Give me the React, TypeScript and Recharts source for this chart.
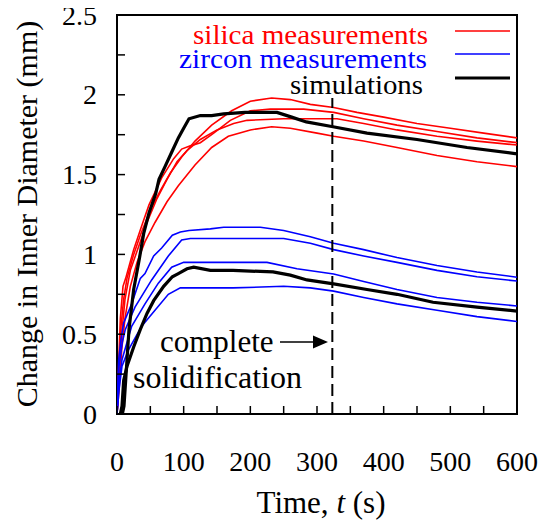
import { LineChart, Line, XAxis, YAxis, ReferenceArea, ReferenceLine } from "recharts";

const FONT = "'Liberation Serif', 'Times New Roman', serif";

// [time (s), change in inner diameter (mm)]
const silicaA = [[0,0],[3,0.3],[6,0.55],[10,0.72],[15,0.85],[25,1.0],[35,1.12],[50,1.28],[65,1.4],[80,1.51],[97,1.61],[117,1.71],[142,1.81],[172,1.9],[200,1.96],[232,1.98],[260,1.97],[290,1.94],[325,1.92],[360,1.89],[400,1.86],[450,1.82],[500,1.79],[550,1.76],[600,1.73]];
const silicaB = [[0,0],[2,0.25],[5,0.6],[9,0.8],[13,0.85],[25,1.03],[38,1.19],[48,1.31],[67,1.48],[85,1.6],[97,1.66],[110,1.68],[125,1.7],[145,1.76],[170,1.84],[200,1.9],[230,1.91],[280,1.91],[325,1.89],[370,1.85],[420,1.81],[480,1.77],[540,1.73],[600,1.7]];
const silicaC = [[0,0],[3,0.2],[7,0.5],[12,0.72],[20,0.9],[30,1.02],[45,1.2],[60,1.35],[75,1.47],[90,1.58],[105,1.65],[125,1.72],[150,1.78],[175,1.82],[195,1.84],[250,1.85],[330,1.85],[370,1.82],[420,1.78],[480,1.74],[540,1.71],[600,1.685]];
const silicaD = [[0,0],[3,0.15],[7,0.4],[12,0.6],[20,0.8],[30,0.95],[42,1.08],[57,1.2],[75,1.33],[92,1.43],[117,1.56],[142,1.67],[167,1.74],[200,1.78],[232,1.8],[260,1.79],[300,1.76],[325,1.74],[370,1.71],[420,1.67],[480,1.62],[540,1.58],[600,1.55]];
const silicaSim = [[8,0],[10.5,0.05],[13,0.21],[18,0.53],[25,0.78],[33,0.96],[40,1.13],[48,1.26],[58,1.38],[63,1.47],[72,1.55],[82,1.64],[92,1.73],[100,1.79],[108,1.85],[125,1.87],[142,1.87],[160,1.88],[192,1.89],[240,1.89],[262,1.86],[284,1.83],[324,1.8],[375,1.76],[450,1.72],[525,1.67],[600,1.63]];

const zirconA = [[0,0],[1,0.15],[2.5,0.34],[6,0.47],[10,0.57],[22,0.69],[35,0.85],[42,0.88],[55,0.99],[67,1.04],[83,1.12],[95,1.14],[108,1.15],[140,1.16],[160,1.17],[215,1.17],[250,1.15],[290,1.11],[325,1.07],[370,1.03],[420,0.98],[480,0.93],[540,0.89],[600,0.857]];
const zirconB = [[0,0],[3,0.3],[8,0.45],[12.5,0.53],[27,0.67],[52,0.84],[77,0.99],[97,1.09],[110,1.1],[200,1.1],[250,1.1],[290,1.07],[325,1.03],[370,0.99],[420,0.95],[480,0.9],[540,0.86],[600,0.833]];
const zirconC = [[0,0],[3,0.2],[7.5,0.34],[22,0.55],[42,0.69],[62,0.82],[82,0.92],[100,0.95],[225,0.95],[270,0.91],[325,0.877],[370,0.83],[420,0.78],[480,0.73],[540,0.7],[600,0.677]];
const zirconD = [[0,0],[3,0.15],[7.5,0.3],[17,0.4],[37,0.55],[57,0.65],[77,0.75],[95,0.79],[174,0.79],[250,0.8],[290,0.79],[325,0.77],[370,0.73],[420,0.69],[480,0.65],[540,0.61],[600,0.58]];
const zirconSim = [[5,0],[7.5,0.05],[10,0.21],[15,0.3],[25,0.42],[35,0.53],[45,0.63],[55,0.71],[70,0.8],[83,0.86],[92,0.88],[105,0.91],[115,0.92],[140,0.9],[174,0.9],[234,0.89],[260,0.87],[285,0.84],[325,0.815],[375,0.78],[420,0.75],[474,0.7],[540,0.67],[600,0.645]];

const xTicks = [0, 50, 100, 150, 200, 250, 300, 350, 400, 450, 500, 550, 600];
const yTicks = [0, 0.25, 0.5, 0.75, 1, 1.25, 1.5, 1.75, 2, 2.25, 2.5];
const solidTime = 323;

const toPts = (arr: number[][]) => arr.map(([t, v]) => ({ t, v }));

const XTick = (props: any) => {
  const { x, y, payload } = props;
  const v = payload.value;
  return (
    <g>
      <line x1={x} y1={y} x2={x} y2={y - 8} stroke="#000" strokeWidth={1.5} />
      {v % 100 === 0 && (
        <text x={x} y={y + 57} textAnchor="middle" fontSize={28} fontFamily={FONT} fill="#000">
          {v}
        </text>
      )}
    </g>
  );
};

const YTick = (props: any) => {
  const { x, y, payload } = props;
  const v = payload.value;
  return (
    <g>
      <line x1={x} y1={y} x2={x + 8} y2={y} stroke="#000" strokeWidth={1.5} />
      {Math.abs(v * 2 - Math.round(v * 2)) < 1e-6 && (
        <text x={x - 20} y={y + 9.5} textAnchor="end" fontSize={28} fontFamily={FONT} fill="#000">
          {v}
        </text>
      )}
    </g>
  );
};

export default function App() {
  const measured = [
    { d: silicaA, c: "#ff0000" },
    { d: silicaB, c: "#ff0000" },
    { d: silicaC, c: "#ff0000" },
    { d: silicaD, c: "#ff0000" },
    { d: zirconA, c: "#0000ff" },
    { d: zirconB, c: "#0000ff" },
    { d: zirconC, c: "#0000ff" },
    { d: zirconD, c: "#0000ff" },
  ];
  // cancel the body margin so chart coordinates equal page coordinates
  return (
    <div style={{ position: "relative", width: 553, height: 529, margin: "-8px 0 0 -8px" }}>
      <LineChart width={553} height={529} margin={{ top: 15, left: 116, right: 36, bottom: 114 }}>
        <XAxis
          dataKey="t"
          type="number"
          domain={[0, 600]}
          ticks={xTicks}
          allowDataOverflow
          height={1}
          tickSize={0}
          tickMargin={0}
          axisLine={false}
          tickLine={false}
          tick={<XTick />}
          interval={0}
        />
        <YAxis
          type="number"
          domain={[0, 2.5]}
          ticks={yTicks}
          allowDataOverflow
          width={1}
          tickSize={0}
          tickMargin={0}
          axisLine={false}
          tickLine={false}
          tick={<YTick />}
          interval={0}
        />
        {measured.map((m, i) => (
          <Line
            key={i}
            data={toPts(m.d)}
            dataKey="v"
            type="linear"
            stroke={m.c}
            strokeWidth={1.6}
            dot={false}
            isAnimationActive={false}
          />
        ))}
        <Line data={toPts(silicaSim)} dataKey="v" type="linear" stroke="#000" strokeWidth={3.2} dot={false} isAnimationActive={false} />
        <Line data={toPts(zirconSim)} dataKey="v" type="linear" stroke="#000" strokeWidth={3.2} dot={false} isAnimationActive={false} />
        <ReferenceLine
          segment={[{ x: solidTime, y: 0 }, { x: solidTime, y: 1.98 }]}
          stroke="#000"
          strokeWidth={2}
          strokeDasharray="12 6"
        />
        <ReferenceArea x1={0} x2={600} y1={0} y2={2.5} fill="none" stroke="#000" strokeWidth={2} />
      </LineChart>
      <svg width={553} height={529} style={{ position: "absolute", left: 0, top: 0, pointerEvents: "none" }}>
        <g fontFamily={FONT} fontSize={27}>
          <text x={428} y={44} textAnchor="end" fill="#ff0000" textLength={235} lengthAdjust="spacingAndGlyphs">silica measurements</text>
          <text x={427} y={68} textAnchor="end" fill="#0000ff" textLength={248} lengthAdjust="spacingAndGlyphs">zircon measurements</text>
          <text x={423} y={94} textAnchor="end" fill="#000" textLength={133} lengthAdjust="spacingAndGlyphs">simulations</text>
        </g>
        <line x1={455} y1={31} x2={510} y2={31} stroke="#ff0000" strokeWidth={1.6} />
        <line x1={455} y1={54} x2={510} y2={54} stroke="#0000ff" strokeWidth={1.6} />
        <line x1={455} y1={78} x2={510} y2={78} stroke="#000" strokeWidth={3.2} />
        <g fontFamily={FONT} fontSize={31} fill="#000">
          <text x={160} y={352}>complete</text>
          <text x={133} y={388} textLength={169} lengthAdjust="spacingAndGlyphs">solidification</text>
        </g>
        <line x1={280} y1={342} x2={316} y2={342} stroke="#000" strokeWidth={1.5} />
        <polygon points="313,335.5 328,342 313,348.5" fill="#000" />
        <text x={321} y={513} textAnchor="middle" fontFamily={FONT} fontSize={31} fill="#000">
          Time, <tspan fontStyle="italic">t</tspan> (s)
        </text>
        <text
          x={37}
          y={214}
          textAnchor="middle"
          fontFamily={FONT}
          fontSize={30}
          fill="#000"
          transform="rotate(-90 37 214)"
        >
          Change in Inner Diameter (mm)
        </text>
      </svg>
    </div>
  );
}
